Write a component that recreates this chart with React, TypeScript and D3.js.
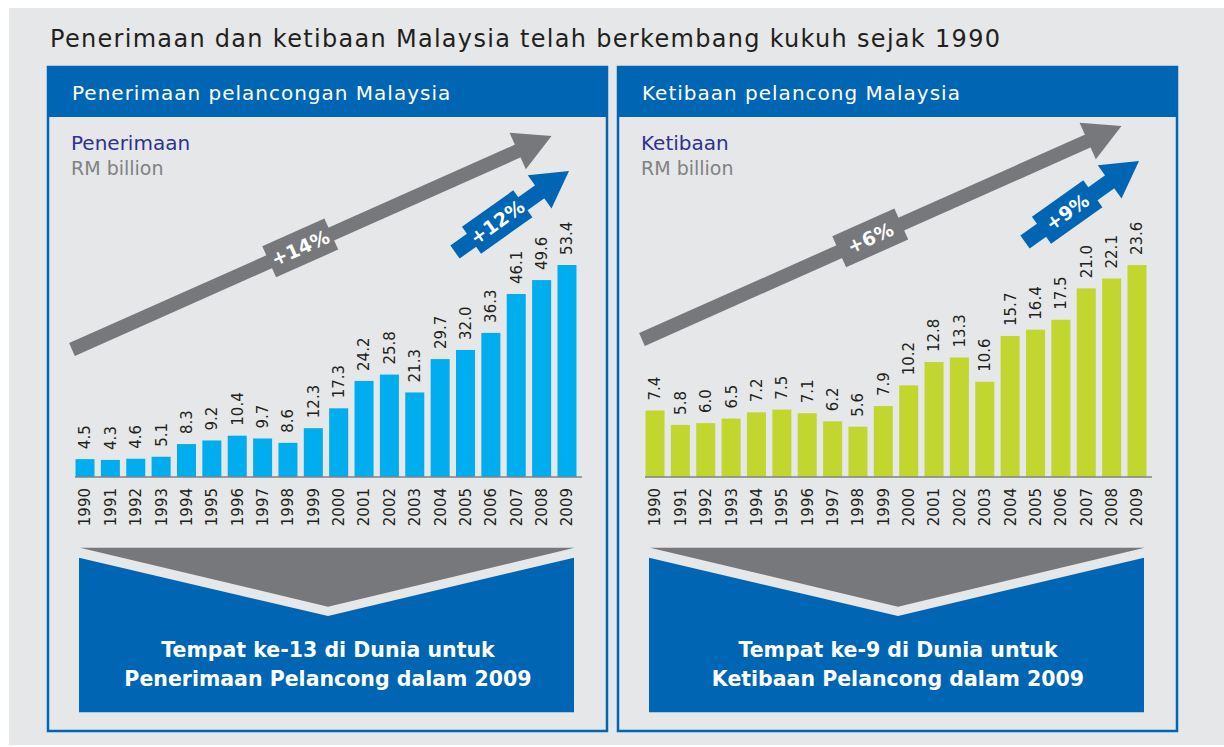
import React from 'react';
import * as d3 from 'd3';

// data
const years = ['1990', '1991', '1992', '1993', '1994', '1995', '1996', '1997', '1998', '1999',
  '2000', '2001', '2002', '2003', '2004', '2005', '2006', '2007', '2008', '2009'];
const receipts = [4.5, 4.3, 4.6, 5.1, 8.3, 9.2, 10.4, 9.7, 8.6, 12.3, 17.3, 24.2, 25.8, 21.3, 29.7, 32.0, 36.3, 46.1, 49.6, 53.4];
const arrivals = [7.4, 5.8, 6.0, 6.5, 7.2, 7.5, 7.1, 6.2, 5.6, 7.9, 10.2, 12.8, 13.3, 10.6, 15.7, 16.4, 17.5, 21.0, 22.1, 23.6];
const growthLong = ['+14%', '+6%'];
const growthShort = ['+12%', '+9%'];
const headers = ['Penerimaan pelancongan Malaysia', 'Ketibaan pelancong Malaysia'];
const measures = ['Penerimaan', 'Ketibaan'];
const rankText = [
  ['Tempat ke-13 di Dunia untuk', 'Penerimaan Pelancong dalam 2009'],
  ['Tempat ke-9 di Dunia untuk', 'Ketibaan Pelancong dalam 2009'],
];

const W = 1224, H = 747;
const BLUE = '#0066b3';
const GREY = '#77787b';
const BG = '#e6e7e8';
const FONT = '"DejaVu Sans", sans-serif';

const panelW = 559, panelH = 664;
const base = 410; // bar baseline inside panel
const barH = 212;

function Arrow({ x1, y1, x2, y2, sw, hw, hl, bt, bl, bh, fill, label }) {
  const L = Math.hypot(x2 - x1, y2 - y1);
  const ang = Math.atan2(y2 - y1, x2 - x1) * 180 / Math.PI;
  const c = bt * L;
  return (
    <g transform={`translate(${x1},${y1}) rotate(${ang})`}>
      <rect x={0} y={-sw / 2} width={L - hl + 1} height={sw} fill={fill} />
      <rect x={c - bl / 2} y={-bh / 2} width={bl} height={bh} fill={fill} />
      <path d={`M${L - hl},${-hw / 2}L${L},0L${L - hl},${hw / 2}Z`} fill={fill} />
      <text x={c} y={0} dy="0.36em" textAnchor="middle" fill="#fff" fontFamily={FONT}
        fontWeight="bold" fontSize={19}>{label}</text>
    </g>
  );
}

function Panel({ x0, y0, idx, values, color, dy }) {
  const x = d3.scaleBand().domain(years).range([27, 529]).paddingInner(0.25).paddingOuter(0.02);
  const y = d3.scaleLinear().domain([0, d3.max(values)]).range([base, base - barH]);
  const cx = 280;
  return (
    <g transform={`translate(${x0},${y0})`}>
      <rect x={0} y={0} width={panelW} height={panelH} fill={BG} stroke={BLUE} strokeWidth={2.5} />
      <rect x={0} y={0} width={panelW} height={50} fill={BLUE} />
      <text x={24} y={32.5} fill="#fff" fontFamily={FONT} fontSize={20} letterSpacing={1}>{headers[idx]}</text>
      <text x={23} y={83} fill="#2e3192" fontFamily={FONT} fontSize={20}>{measures[idx]}</text>
      <text x={23} y={108} fill="#808285" fontFamily={FONT} fontSize={19}>RM billion</text>

      <Arrow x1={24} y1={282.5 + dy} x2={503.5} y2={69 + dy} sw={14} hw={40} hl={37}
        bt={0.476} bl={68} bh={34} fill={GREY} label={growthLong[idx]} />
      <Arrow x1={407} y1={185 + dy} x2={521} y2={104 + dy} sw={16} hw={41} hl={36}
        bt={0.37} bl={63} bh={33} fill={BLUE} label={growthShort[idx]} />

      {values.map((v, i) => (
        <g key={years[i]}>
          <rect x={x(years[i])} y={y(v)} width={x.bandwidth()} height={base - y(v)} fill={color} />
          <text transform={`translate(${x(years[i]) + x.bandwidth() / 2},${y(v) - 10}) rotate(-90)`}
            dy="0.36em" fill="#231f20" fontFamily={FONT} fontSize={15}>{v.toFixed(1)}</text>
          <text transform={`translate(${x(years[i]) + x.bandwidth() / 2},${base + 11}) rotate(-90)`}
            dy="0.36em" textAnchor="end" fill="#231f20" fontFamily={FONT} fontSize={15}>{years[i]}</text>
        </g>
      ))}
      <line x1={27} x2={534} y1={base} y2={base} stroke="#808285" strokeWidth={1.5} />

      <path d={`M32,480.7L526.6,480.7L${cx},539.7Z`} fill={GREY} />
      <path d={`M31,490.7L${cx},549L526,490.7L526,645.3L31,645.3Z`} fill={BLUE} />
      <text x={cx} y={589.7} textAnchor="middle" fill="#fff" fontFamily={FONT} fontWeight="bold" fontSize={20.5}>{rankText[idx][0]}</text>
      <text x={cx} y={618.7} textAnchor="middle" fill="#fff" fontFamily={FONT} fontWeight="bold" fontSize={20.5}>{rankText[idx][1]}</text>
    </g>
  );
}

export default function App() {
  return (
    <svg width={W} height={H} style={{ position: 'absolute', left: 0, top: 0, background: '#fff' }}>
      <rect x={9} y={8} width={W - 9} height={737} fill={BG} />
      <text x={50} y={47} fill="#231f20" fontFamily={FONT} fontSize={24} letterSpacing={1.3}>
        Penerimaan dan ketibaan Malaysia telah berkembang kukuh sejak 1990
      </text>
      <Panel x0={48} y0={67} idx={0} values={receipts} color="#00aeef" dy={0} />
      <Panel x0={618} y0={67} idx={1} values={arrivals} color="#c1d72f" dy={-10} />
    </svg>
  );
}
